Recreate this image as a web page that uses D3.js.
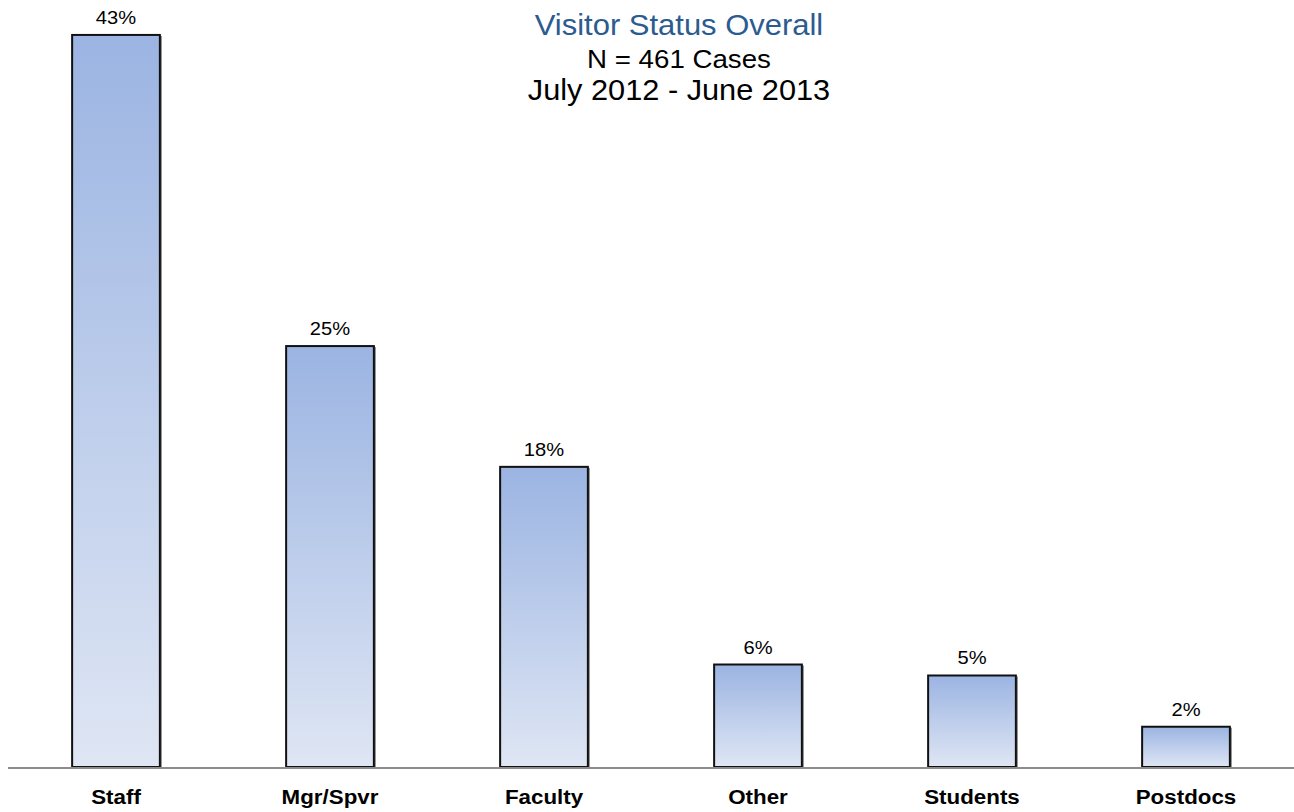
<!DOCTYPE html>
<html>
<head>
<meta charset="utf-8">
<script src="https://cdn.jsdelivr.net/npm/d3@7"></script>
<style>
  html, body { margin: 0; padding: 0; background: #fff; }
  svg { display: block; font-family: "Liberation Sans", Arial, sans-serif; }
</style>
</head>
<body>
<svg id="chart" width="1294" height="812"></svg>
<script>
// ---- data ----
const categories = ["Staff", "Mgr/Spvr", "Faculty", "Other", "Students", "Postdocs"];
const counts = [200, 115, 82, 28, 25, 11];           // N = 461
const totalCases = 461;
const percentValues = counts.map(c => c / totalCases * 100);
const valueLabels = ["43%", "25%", "18%", "6%", "5%", "2%"];
const titleLines = ["Visitor Status Overall", "N = 461 Cases", "July 2012 - June 2013"];

// ---- layout ----
const baseY = 767;
const svg = d3.select("#chart");

const x = d3.scaleBand().domain(categories).range([9, 1293]).paddingInner(0.59).paddingOuter(0.295);
const y = d3.scaleLinear().domain([0, 45]).range([baseY, baseY - 45 * 16.874]);

// gradient
const defs = svg.append("defs");
const grad = defs.append("linearGradient").attr("id", "barGrad")
  .attr("x1", 0).attr("y1", 0).attr("x2", 0).attr("y2", 1);
grad.append("stop").attr("offset", "0%").attr("stop-color", "#9bb4e2");
grad.append("stop").attr("offset", "100%").attr("stop-color", "#dfe6f4");

// bars
const data = categories.map((c, i) => ({ cat: c, v: percentValues[i], label: valueLabels[i] }));

svg.append("g").selectAll("rect").data(data).join("rect")
  .attr("x", d => x(d.cat) + 2)
  .attr("y", d => y(d.v) + 1)
  .attr("width", x.bandwidth())
  .attr("height", d => baseY - y(d.v))
  .attr("fill", "#8a8a8a");

svg.append("g").selectAll("rect").data(data).join("rect")
  .attr("x", d => x(d.cat))
  .attr("y", d => y(d.v))
  .attr("width", x.bandwidth())
  .attr("height", d => baseY - y(d.v))
  .attr("fill", "url(#barGrad)")
  .attr("stroke", "#111")
  .attr("stroke-width", 2);

// baseline axis
const xAxis = d3.axisBottom(x).tickSize(0).tickPadding(0);
const axisG = svg.append("g").attr("transform", `translate(0,${baseY + 1})`).call(xAxis);
axisG.select(".domain").attr("stroke", "#8c8c8c").attr("stroke-width", 2)
  .attr("d", "M8,0H1294");
axisG.selectAll(".tick text")
  .attr("y", 0).attr("dy", 0)
  .attr("transform", "translate(0,36) scale(1.09,1)")
  .attr("font-size", 20.5).attr("font-weight", "bold").attr("fill", "#000")
  .attr("font-family", "Liberation Sans, Arial, sans-serif");

// value labels
svg.append("g").selectAll("text").data(data).join("text")
  .attr("transform", d => `translate(${x(d.cat) + x.bandwidth() / 2},${y(d.v) - 11}) scale(1.15,1)`)
  .attr("text-anchor", "middle")
  .attr("font-size", 17.5)
  .attr("fill", "#000")
  .text(d => d.label);

// titles
const tcx = 679;
const titleSpecs = [
  { y: 35, size: 29.5, sx: 1.05, fill: "#2c5b8f" },
  { y: 68, size: 26.5, sx: 1.045, fill: "#000" },
  { y: 100, size: 29, sx: 1.06, fill: "#000" }
];
svg.append("g").selectAll("text").data(titleLines).join("text")
  .attr("transform", (d, i) => `translate(${tcx},${titleSpecs[i].y}) scale(${titleSpecs[i].sx},1)`)
  .attr("text-anchor", "middle")
  .attr("font-size", (d, i) => titleSpecs[i].size)
  .attr("fill", (d, i) => titleSpecs[i].fill)
  .text(d => d);
</script>
</body>
</html>
